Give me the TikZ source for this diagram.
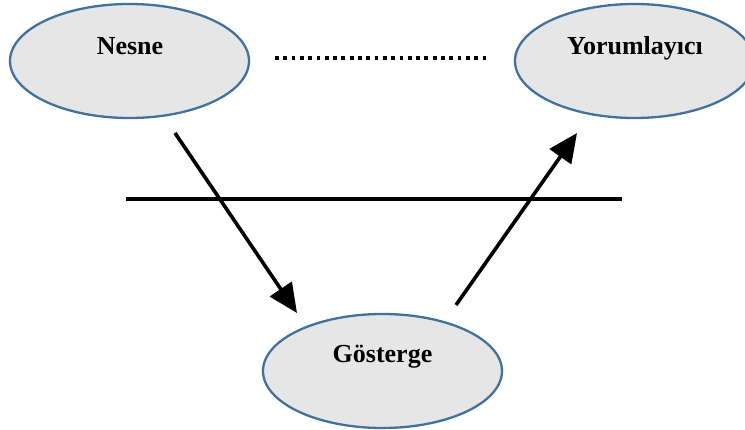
\documentclass[tikz,border=0pt]{standalone}
\usepackage{fontspec}
\setmainfont{Liberation Serif}
\usetikzlibrary{shapes.geometric,arrows.meta}
\definecolor{ellline}{HTML}{41719C}
\definecolor{ellfill}{HTML}{E6E6E6}
\tikzset{
  ell/.style={ellipse, draw=ellline, fill=ellfill, line width=2.3pt,
    minimum width=239pt, minimum height=114pt, inner sep=0pt},
  lbl/.style={anchor=base, inner sep=0pt, font=\fontsize{26}{30}\selectfont\bfseries},
  conn/.style={line width=3.6pt, -{Triangle[length=29pt,width=26pt]}},
  bar/.style={line width=3.6pt},
  dots/.style={line width=3.8pt, dash pattern=on 3.8pt off 4.5pt}
}
\begin{document}
\begin{tikzpicture}[x=1pt,y=-1pt]
\useasboundingbox (0,0) rectangle (745,430);
\node[ell] (nesne) at (129.5,61) {};
\node[ell] (yorum) at (634.5,61) {};
\node[ell] (gost) at (382.5,371) {};
\node[lbl] (tnesne) at (130,55) {Nesne};
\node[lbl] (tyorum) at (635,55) {Yorumlayıcı};
\node[lbl] (tgost) at (382.5,363) {Gösterge};
\coordinate (d1) at (275,58);
\coordinate (d2) at (490,58);
\draw[dots] (d1) -- (d2);
\coordinate (h1) at (126,199);
\coordinate (h2) at (622,199);
\draw[bar] (h1) -- (h2);
\coordinate (a1s) at (175,133);
\coordinate (a1e) at (297,313);
\draw[conn] (a1s) -- (a1e);
\coordinate (a2s) at (456,305);
\coordinate (a2e) at (577,133);
\draw[conn] (a2s) -- (a2e);
\end{tikzpicture}
\end{document}
